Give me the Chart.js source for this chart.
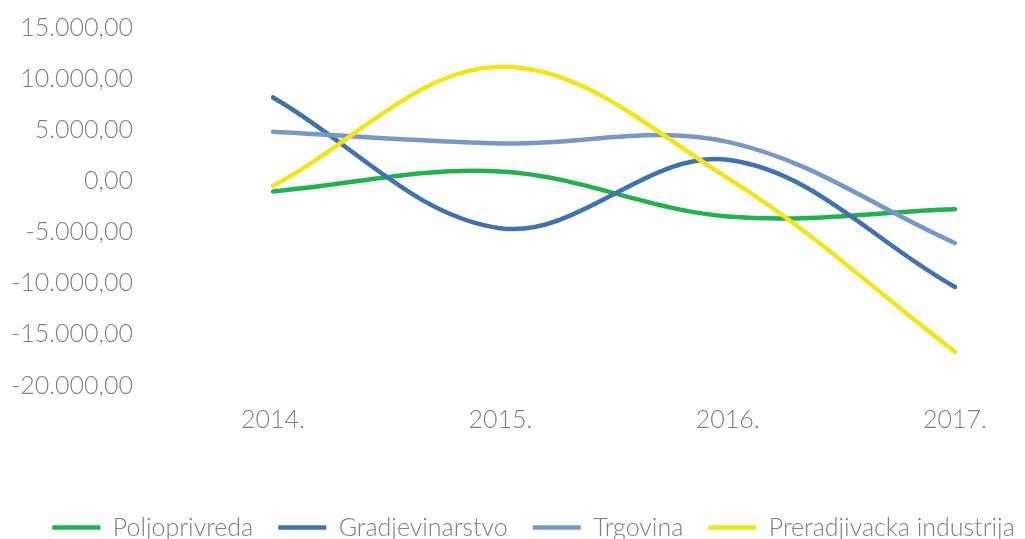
<!DOCTYPE html>
<html>
<head>
<meta charset="utf-8">
<script src="https://cdn.jsdelivr.net/npm/chart.js@4"></script>
<style>
  html, body { margin: 0; padding: 0; background: #ffffff; overflow: hidden; }
  #wrap { position: relative; width: 1025px; height: 550px; }
</style>
</head>
<body>
<div id="wrap"><canvas id="c"></canvas></div>
<script>
const categories = ['2014.', '2015.', '2016.', '2017.'];
const seriesNames = ['Poljoprivreda', 'Gradjevinarstvo', 'Trgovina', 'Preradjivacka industrija'];
const poljoprivreda = [-1000, 950, -3450, -2750];
const gradjevinarstvo = [8200, -4600, 2100, -10350];
const trgovina = [4850, 3700, 3850, -6050];
const preradjivacka = [-450, 11200, 300, -16700];
const yTicks = [-20000, -15000, -10000, -5000, 0, 5000, 10000, 15000];

const colors = ['#21B14F', '#3F72AF', '#7797C8', '#F2E617'];
const values = [poljoprivreda, gradjevinarstvo, trgovina, preradjivacka];

function fmt(v) {
  const neg = v < 0;
  const a = Math.abs(v);
  const intPart = Math.floor(a).toString().replace(/\B(?=(\d{3})+(?!\d))/g, '.');
  const dec = Math.round((a - Math.floor(a)) * 100).toString().padStart(2, '0');
  return (neg ? '-' : '') + intPart + ',' + dec;
}

const TICK_FONT = { family: 'Lato', size: 25, weight: 300 };
const LEGEND_FONT = { family: 'Lato', size: 25, weight: 300 };
const GREY = '#7f7f7f';

const legendShift = {
  id: 'legendShift',
  afterLayout(chart) {
    if (chart.legend) { chart.legend.left += 21; chart.legend.right += 21; }
  }
};

new Chart(document.getElementById('c'), {
  type: 'line',
  plugins: [legendShift],
  data: {
    labels: categories,
    datasets: seriesNames.map((n, i) => ({
      label: n,
      data: values[i],
      borderColor: colors[i],
      backgroundColor: colors[i],
      borderWidth: 4.5,
      borderCapStyle: 'round',
      borderJoinStyle: 'round',
      pointRadius: 0,
      pointHoverRadius: 0,
      tension: 0.36,
      fill: false,
      order: 4 - i
    }))
  },
  options: {
    responsive: true,
    maintainAspectRatio: false,
    animation: false,
    layout: { padding: { top: 28, left: 0, right: 0, bottom: 0 } },
    plugins: {
      tooltip: { enabled: false },
      legend: {
        position: 'bottom',
        labels: {
          sort: (a, b) => a.datasetIndex - b.datasetIndex,
          usePointStyle: true,
          pointStyle: 'line',
          pointStyleWidth: 48,
          boxHeight: 4,
          padding: 25,
          color: GREY,
          font: LEGEND_FONT
        }
      }
    },
    scales: {
      x: {
        type: 'category',
        offset: false,
        grid: { display: false, drawTicks: false },
        border: { display: false },
        ticks: { color: GREY, font: TICK_FONT, padding: 19, maxRotation: 0 },
        afterFit: (s) => { s.height = 104.5; s.paddingLeft = 0; s.paddingRight = 0; }
      },
      y: {
        position: 'left',
        min: -20000,
        max: 15000,
        grid: { display: false, drawTicks: false },
        border: { display: false },
        afterBuildTicks: (s) => { s.ticks = yTicks.map(v => ({ value: v })); },
        ticks: { color: GREY, font: TICK_FONT, padding: 140, callback: (v) => fmt(v) },
        afterFit: (s) => { s.width = 273; s.paddingTop = 10; s.paddingBottom = 10; }
      },
      yRight: {
        position: 'right',
        display: true,
        grid: { display: false, drawTicks: false },
        border: { display: false },
        ticks: { display: false },
        afterFit: (s) => { s.width = 70; s.paddingTop = 0; s.paddingBottom = 0; }
      }
    }
  }
});
</script>
</body>
</html>
